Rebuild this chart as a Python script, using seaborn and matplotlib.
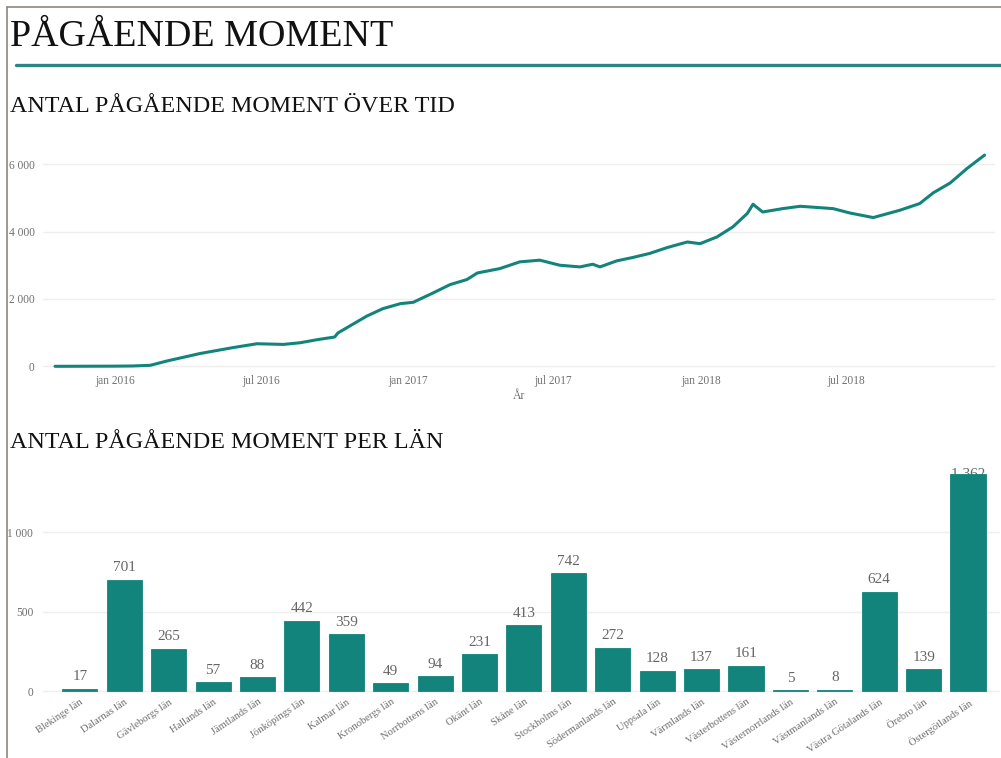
import matplotlib
matplotlib.use("Agg")
import matplotlib.pyplot as plt
from matplotlib.lines import Line2D
from matplotlib.ticker import FuncFormatter
import seaborn as sns
import pandas as pd

# --- data ---
dates = ["2015-10-18", "2016-01-01", "2016-01-23", "2016-02-14", "2016-03-06",
         "2016-04-16", "2016-05-27", "2016-06-26", "2016-07-29", "2016-08-19",
         "2016-09-09", "2016-10-01", "2016-10-05", "2016-11-10", "2016-11-30",
         "2016-12-22", "2017-01-07", "2017-02-01", "2017-02-22", "2017-03-15",
         "2017-03-28", "2017-04-25", "2017-05-20", "2017-06-14", "2017-07-09",
         "2017-08-03", "2017-08-19", "2017-08-28", "2017-09-18", "2017-10-08",
         "2017-10-29", "2017-11-20", "2017-12-15", "2017-12-31", "2018-01-21",
         "2018-02-10", "2018-02-28", "2018-03-07", "2018-03-19", "2018-04-13",
         "2018-05-05", "2018-06-15", "2018-07-06", "2018-08-04", "2018-09-06",
         "2018-10-01", "2018-10-18", "2018-11-08", "2018-11-29", "2018-12-21"]
pagaende = [0, 5, 10, 30, 160,
            380, 555, 670, 650, 700,
            790, 870, 990, 1490, 1710,
            1860, 1900, 2180, 2425, 2575,
            2770, 2900, 3100, 3150, 3000,
            2950, 3030, 2950, 3130, 3230,
            3350, 3525, 3690, 3640, 3840,
            4140, 4540, 4810, 4580, 4680,
            4750, 4680, 4550, 4415, 4630,
            4830, 5150, 5440, 5870, 6270]
date_ticks = ["2016-01-01", "2016-07-01", "2017-01-01", "2017-07-01", "2018-01-01", "2018-07-01"]
date_tick_labels = ["jan 2016", "jul 2016", "jan 2017", "jul 2017", "jan 2018", "jul 2018"]

lan = ["Blekinge län", "Dalarnas län", "Gävleborgs län", "Hallands län",
       "Jämtlands län", "Jönköpings län", "Kalmar län", "Kronobergs län",
       "Norrbottens län", "Okänt län", "Skåne län", "Stockholms län",
       "Södermanlands län", "Uppsala län", "Värmlands län", "Västerbottens län",
       "Västernorrlands län", "Västmanlands län", "Västra Götalands län",
       "Örebro län", "Östergötlands län"]
antal = [17, 701, 265, 57, 88, 442, 359, 49, 94, 231, 413,
         742, 272, 128, 137, 161, 5, 8, 624, 139, 1362]

TEAL = "#13847c"
GREY_TXT = "#707070"
W, H = 1001, 758

sns.set_style("white")
plt.rcParams["font.family"] = ["Liberation Serif", "DejaVu Serif"]

fig = plt.figure(figsize=(W / 100, H / 100), dpi=100)


def rect(x0, x1, ytop, ybot):
    # pixel box -> figure fraction
    return [x0 / W, 1 - ybot / H, (x1 - x0) / W, (ybot - ytop) / H]


def space_thousands(v, _pos):
    return f"{int(round(v)):,}".replace(",", " ")


# page frame and headers
fig.add_artist(Line2D([7 / W, 7 / W], [0, 1 - 7 / H], color="#8c8680", lw=1.2))
fig.add_artist(Line2D([7 / W, 1], [1 - 7 / H, 1 - 7 / H], color="#8c8680", lw=1.2))
fig.add_artist(Line2D([16 / W, 1], [1 - 65 / H, 1 - 65 / H], color="#2b8584", lw=2.4))

fig.text(10 / W, 1 - 46 / H, "PÅGÅENDE MOMENT", fontsize=27.4, color="#111111", va="baseline")
fig.text(10 / W, 1 - 112 / H, "ANTAL PÅGÅENDE MOMENT ÖVER TID", fontsize=17.3,
         color="#111111", va="baseline")
fig.text(10 / W, 1 - 448 / H, "ANTAL PÅGÅENDE MOMENT PER LÄN", fontsize=17.3,
         color="#111111", va="baseline")

# --- line chart ---
ts = pd.DataFrame({"Datum": pd.to_datetime(dates), "Antal": pagaende})
ax1 = fig.add_axes(rect(43, 995, 150, 368))
sns.lineplot(data=ts, x="Datum", y="Antal", ax=ax1, color=TEAL, lw=2.2)
ax1.set_xlim(pd.Timestamp("2015-10-03"), pd.Timestamp("2019-01-03"))
ax1.set_ylim(-50, 6420)
ax1.set_yticks([0, 2000, 4000, 6000])
ax1.yaxis.set_major_formatter(FuncFormatter(space_thousands))
ax1.set_xticks(pd.to_datetime(date_ticks))
ax1.set_xticklabels(date_tick_labels)
ax1.set_xlabel("År", color=GREY_TXT, fontsize=8.5, labelpad=2)
ax1.set_ylabel("")
ax1.grid(axis="y", color="#eeeeee", lw=1)
for s in ax1.spines.values():
    s.set_visible(False)
ax1.tick_params(axis="both", length=0, labelsize=8.3, labelcolor=GREY_TXT)
ax1.tick_params(axis="y", pad=6)
ax1.tick_params(axis="x", pad=5)

# --- bar chart ---
bars = pd.DataFrame({"Län": lan, "Antal": antal})
ax2 = fig.add_axes(rect(43, 1000, 470, 696))
sns.barplot(data=bars, x="Län", y="Antal", ax=ax2, color=TEAL, width=0.79,
            saturation=1, zorder=2, edgecolor=TEAL, linewidth=0.6)
ax2.set_xlim(-0.83, 20.72)
ax2.set_ylim(-30, 1390)
ax2.set_yticks([0, 500, 1000])
ax2.yaxis.set_major_formatter(FuncFormatter(space_thousands))
ax2.set_xlabel("")
ax2.set_ylabel("")
ax2.grid(axis="y", color="#eeeeee", lw=1, zorder=0)
ax2.set_axisbelow(True)
for s in ax2.spines.values():
    s.set_visible(False)
ax2.tick_params(axis="both", length=0, labelsize=8.3, labelcolor=GREY_TXT)
ax2.tick_params(axis="y", pad=7)
ax2.tick_params(axis="x", pad=1, labelsize=7.6)
for lbl in ax2.get_xticklabels():
    lbl.set_rotation(34)
    lbl.set_ha("right")
    lbl.set_va("top")
    lbl.set_rotation_mode("anchor")

top = ax2.get_ylim()[1]
for p, v in zip(ax2.patches, antal):
    cx = p.get_x() + p.get_width() / 2
    txt = space_thousands(v, None)
    if v > top * 0.93:
        # label does not fit above the tallest bar: bar covers it
        ax2.annotate(txt, (cx, v), xytext=(0, 0), textcoords="offset points",
                     ha="center", va="center", fontsize=11, color="#666666",
                     zorder=1, annotation_clip=False)
    else:
        ax2.annotate(txt, (cx, v), xytext=(0, 4), textcoords="offset points",
                     ha="center", va="bottom", fontsize=11, color="#666666", zorder=3)

fig.savefig("out.png", dpi=100)
